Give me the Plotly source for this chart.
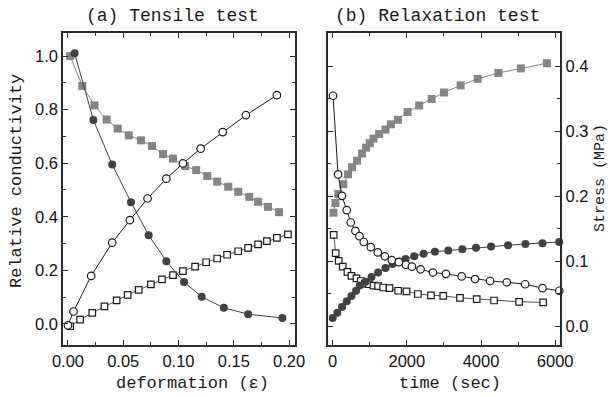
import plotly.graph_objects as go

# ---- (a) Tensile test data ----
a_gray_sq_x = [0.002, 0.013, 0.024, 0.035, 0.045, 0.055, 0.066, 0.076, 0.086, 0.095,
               0.106, 0.116, 0.126, 0.135, 0.145, 0.154, 0.164, 0.172, 0.181, 0.191]
a_gray_sq_y = [1.0, 0.888, 0.816, 0.763, 0.729, 0.704, 0.685, 0.664, 0.634, 0.617,
               0.589, 0.574, 0.552, 0.531, 0.512, 0.493, 0.474, 0.456, 0.437, 0.417]

a_dark_ci_x = [0.006, 0.023, 0.040, 0.057, 0.073, 0.089, 0.105, 0.121, 0.141, 0.163, 0.194]
a_dark_ci_y = [1.010, 0.761, 0.595, 0.454, 0.331, 0.234, 0.156, 0.101, 0.060, 0.036, 0.022]

a_open_ci_x = [0.000, 0.005, 0.021, 0.040, 0.056, 0.072, 0.089, 0.104, 0.120, 0.140, 0.161, 0.189]
a_open_ci_y = [-0.006, 0.046, 0.179, 0.303, 0.387, 0.468, 0.542, 0.599, 0.654, 0.716, 0.779, 0.854]

a_open_sq_x = [0.002, 0.011, 0.022, 0.033, 0.044, 0.054, 0.064, 0.075, 0.085, 0.095,
               0.104, 0.115, 0.125, 0.135, 0.144, 0.154, 0.163, 0.172, 0.180, 0.189, 0.199]
a_open_sq_y = [-0.009, 0.016, 0.041, 0.065, 0.088, 0.108, 0.127, 0.147, 0.166, 0.182,
               0.197, 0.214, 0.230, 0.244, 0.258, 0.271, 0.284, 0.297, 0.309, 0.321, 0.334]

# ---- (b) Relaxation test data ----
b_gray_sq_t = [20, 75, 150, 285, 414, 522, 657, 792, 900, 1000, 1100, 1251, 1424, 1568,
               1757, 2019, 2332, 2668, 3000, 3451, 3910, 4468, 5073, 5776]
b_gray_sq_s = [0.175, 0.190, 0.204, 0.219, 0.234, 0.245, 0.255, 0.266, 0.275, 0.282, 0.289,
               0.296, 0.303, 0.311, 0.318, 0.330, 0.340, 0.350, 0.360, 0.371, 0.381, 0.390,
               0.397, 0.405]

b_open_ci_t = [9, 144, 251, 378, 486, 613, 722, 838, 1027, 1216, 1405, 1595, 1784, 1973,
               2135, 2370, 2703, 3054, 3478, 3838, 4243, 4694, 5189, 5657, 6110]
b_open_ci_s = [0.355, 0.234, 0.201, 0.179, 0.160, 0.147, 0.139, 0.130, 0.122, 0.114, 0.108,
               0.102, 0.099, 0.095, 0.092, 0.088, 0.083, 0.081, 0.077, 0.073, 0.070, 0.068,
               0.065, 0.059, 0.055]

b_dark_ci_t = [0, 126, 251, 378, 505, 630, 730, 884, 1046, 1224, 1424, 1613, 1784, 1964,
               2197, 2451, 2757, 3117, 3495, 3865, 4270, 4730, 5197, 5657, 6108]
b_dark_ci_s = [0.013, 0.021, 0.030, 0.039, 0.047, 0.055, 0.063, 0.069, 0.076, 0.083, 0.090,
               0.096, 0.100, 0.104, 0.108, 0.112, 0.115, 0.117, 0.119, 0.121, 0.123, 0.125,
               0.127, 0.128, 0.130]

b_open_sq_t = [27, 81, 162, 270, 397, 505, 640, 757, 865, 973, 1100, 1224, 1360, 1532,
               1765, 1991, 2297, 2649, 2981, 3432, 3883, 4351, 5027, 5676]
b_open_sq_s = [0.141, 0.113, 0.101, 0.092, 0.084, 0.078, 0.074, 0.070, 0.066, 0.065, 0.063,
               0.062, 0.060, 0.059, 0.055, 0.054, 0.050, 0.048, 0.047, 0.044, 0.042, 0.040,
               0.038, 0.037]

GRAY = "#858585"
DARK = "#414141"
BLACK = "#1a1a1a"
MONO = "Liberation Mono, Courier New, monospace"
SANS = "Liberation Sans, Arial, sans-serif"

fig = go.Figure()

def add(x, y, xa, ya, symbol, fill, edge, line_color, size):
    fig.add_trace(go.Scatter(
        x=x, y=y, xaxis=xa, yaxis=ya, mode="lines+markers",
        line=dict(color=line_color, width=1),
        marker=dict(symbol=symbol, size=size, color=fill,
                    line=dict(color=edge, width=1.2 if fill == "white" else 0)),
        showlegend=False, cliponaxis=False))

# panel (a)
add(a_gray_sq_x, a_gray_sq_y, "x", "y", "square", GRAY, GRAY, GRAY, 8)
add(a_open_sq_x, a_open_sq_y, "x", "y", "square", "white", BLACK, "#555555", 6.5)
add(a_dark_ci_x, a_dark_ci_y, "x", "y", "circle", DARK, DARK, DARK, 8)
add(a_open_ci_x, a_open_ci_y, "x", "y", "circle", "white", BLACK, BLACK, 7.5)

# panel (b)
add(b_gray_sq_t, b_gray_sq_s, "x2", "y2", "square", GRAY, GRAY, GRAY, 8)
add(b_open_sq_t, b_open_sq_s, "x2", "y2", "square", "white", BLACK, "#555555", 6.5)
add(b_dark_ci_t, b_dark_ci_s, "x2", "y2", "circle", DARK, DARK, DARK, 8)
add(b_open_ci_t, b_open_ci_s, "x2", "y2", "circle", "white", BLACK, BLACK, 7.5)

H = 397.0
W = 608.0
ydom = [1 - 345 / H, 1 - 33 / H]

axis_common = dict(
    showline=True, linecolor="#2a2a2a", linewidth=1.6, mirror="allticks",
    ticks="inside", ticklen=5, tickwidth=1.2, tickcolor="#2a2a2a",
    showgrid=False, zeroline=False, automargin=False,
    tickfont=dict(family=SANS, size=16.5, color="#111111"),
)

fig.update_layout(
    width=608, height=397,
    margin=dict(l=0, r=0, t=0, b=0),
    paper_bgcolor="white", plot_bgcolor="white",
    xaxis=dict(domain=[63 / W, 295 / W], range=[-0.0045, 0.2054],
               tickvals=[0, 0.05, 0.10, 0.15, 0.20],
               ticktext=["0.00", "0.05", "0.10", "0.15", "0.20"],
               minor=dict(ticks="inside", ticklen=3, dtick=0.025, tick0=0,
                          tickcolor="#2a2a2a"),
               anchor="y", **axis_common),
    yaxis=dict(domain=ydom, range=[-0.079, 1.086],
               tickvals=[0, 0.2, 0.4, 0.6, 0.8, 1.0],
               ticktext=["0.0", "0.2", "0.4", "0.6", "0.8", "1.0"],
               minor=dict(ticks="inside", ticklen=3, dtick=0.1, tick0=0,
                          tickcolor="#2a2a2a"),
               anchor="x", **axis_common),
    xaxis2=dict(domain=[328 / W, 559.5 / W], range=[-127, 6116],
                tickvals=[0, 2000, 4000, 6000],
                ticktext=["0", "2000", "4000", "6000"],
                minor=dict(ticks="inside", ticklen=3, dtick=1000, tick0=0,
                           tickcolor="#2a2a2a"),
                anchor="y2", **axis_common),
    yaxis2=dict(domain=ydom, range=[-0.0285, 0.4515], side="right",
                tickvals=[0, 0.1, 0.2, 0.3, 0.4],
                ticktext=["0.0", "0.1", "0.2", "0.3", "0.4"],
                minor=dict(ticks="inside", ticklen=3, dtick=0.05, tick0=0,
                           tickcolor="#2a2a2a"),
                ticklabelstandoff=1,
                anchor="x2", **axis_common),
)

def label(text, x, y, size, angle=0):
    fig.add_annotation(text=text, x=x / W, y=1 - y / H, xref="paper", yref="paper",
                       showarrow=False, textangle=angle, xanchor="center", yanchor="middle",
                       font=dict(family=MONO, size=size, color="#1a1a1a"))

label("(a) Tensile test", 172.5, 16, 18)
label("(b) Relaxation test", 437, 16, 18)
label("deformation (\u03b5)", 192.5, 383, 17)
label("time (sec)", 449.5, 383, 17)
label("Relative conductivity", 16, 181, 17, -90)
label("Stress (MPa)", 600, 178, 15, -90)

fig.write_html("out.html")
